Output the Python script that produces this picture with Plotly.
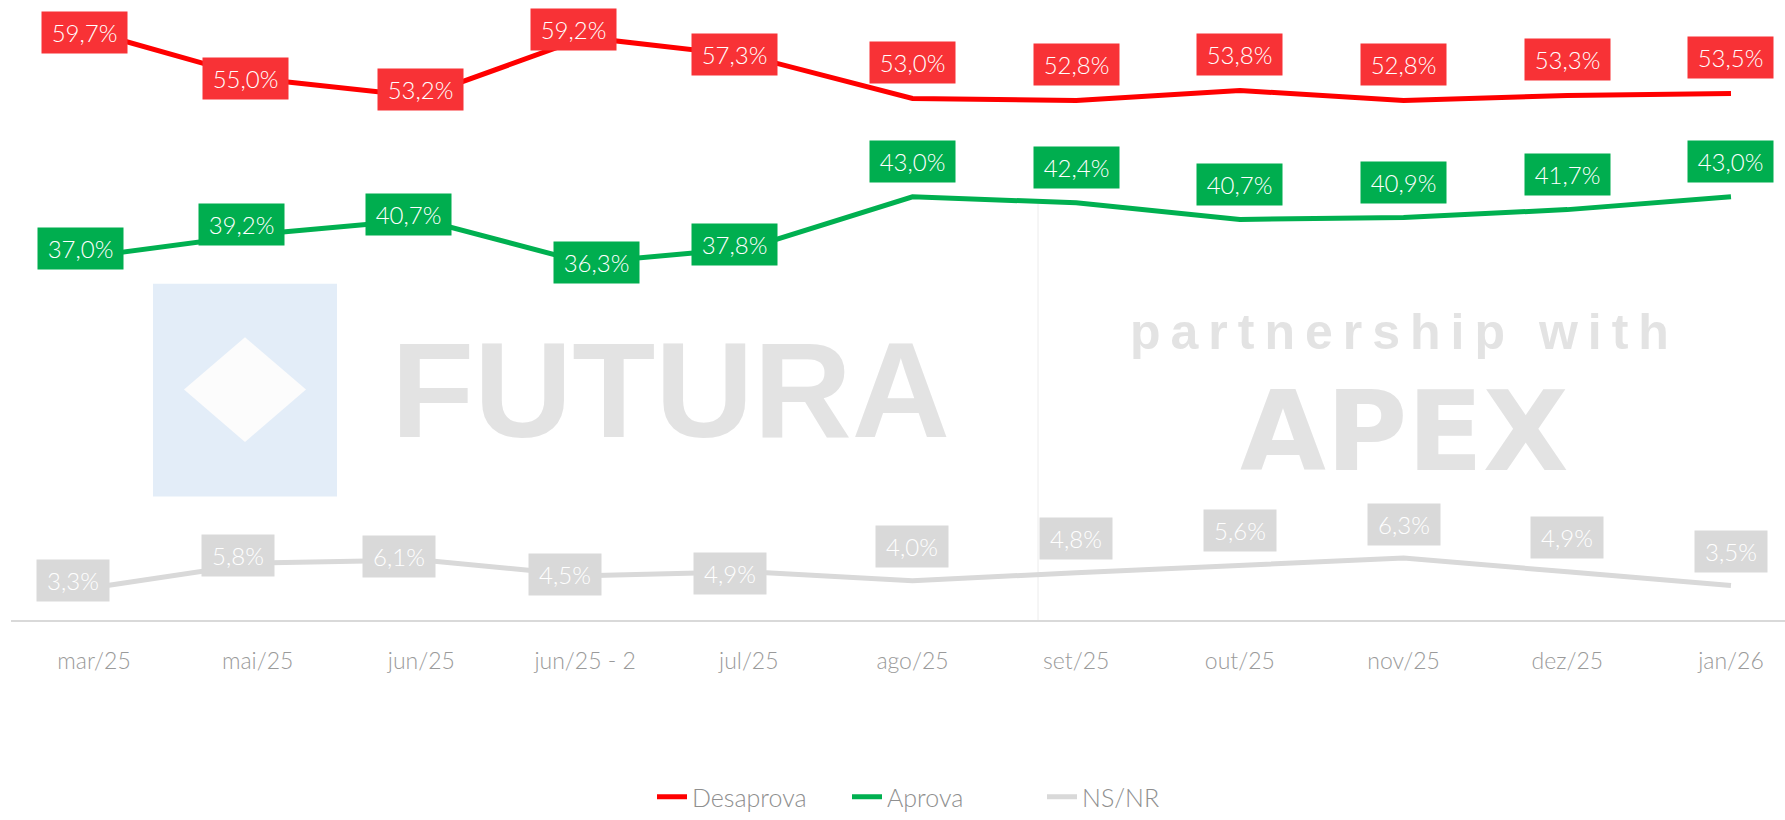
import plotly.graph_objects as go

# ---------------- data ----------------
categories = ["mar/25", "mai/25", "jun/25", "jun/25 - 2", "jul/25", "ago/25",
              "set/25", "out/25", "nov/25", "dez/25", "jan/26"]
desaprova = [59.7, 55.0, 53.2, 59.2, 57.3, 53.0, 52.8, 53.8, 52.8, 53.3, 53.5]
aprova = [37.0, 39.2, 40.7, 36.3, 37.8, 43.0, 42.4, 40.7, 40.9, 41.7, 43.0]
nsnr = [3.3, 5.8, 6.1, 4.5, 4.9, 4.0, 4.8, 5.6, 6.3, 4.9, 3.5]

# ---------------- label placement (pixel shifts: right, up) ----------------
red_shift = [(-10, 0), (-12, 0), (-1, 7), (-12, 8), (-14, 2),
             (0, 36), (0, 36), (0, 36), (0, 36), (0, 36), (0, 36)]
green_shift = [(-14, 7), (-16, 10), (-13, 5), (11, 0), (-14, 4),
               (0, 35), (0, 35), (0, 35), (0, 35), (0, 35), (0, 35)]
gray_shift = [(-21, 7), (-20, 7), (-22, 3), (-20, 1), (-19, -2),
              (0, 34), (0, 34), (0, 34), (0, 34), (0, 34), (0, 34)]

W, H = 1785, 820
ML, MR, MT, MB = 11, 0, 0, 193
PW, PH = W - ML - MR, H - MT - MB

LINE_RED, LINE_GREEN, LINE_GRAY = "#FF0000", "#00B050", "#D9D9D9"
BOX_RED, BOX_GREEN, BOX_GRAY = "#F83236", "#00AE4F", "#D9D9D9"
LIGHT_FONT = "Lato, Roboto"


def px_x(px):
    return (px - ML) / PW


def px_y(py):
    return (H - MB - py) / PH


fig = go.Figure()

series = [
    ("Desaprova", desaprova, LINE_RED, BOX_RED, red_shift, 75),
    ("Aprova", aprova, LINE_GREEN, BOX_GREEN, green_shift, 75),
    ("NS/NR", nsnr, LINE_GRAY, BOX_GRAY, gray_shift, 62),
]

for name, vals, lc, bc, shifts, bw in series:
    fig.add_trace(go.Scatter(
        x=categories, y=vals, mode="lines", name=name,
        line=dict(color=lc, width=5),
        hoverinfo="skip",
    ))

annotations = []
# data labels
for name, vals, lc, bc, shifts, bw in series:
    for c, v, (dx, dy) in zip(categories, vals, shifts):
        annotations.append(dict(
            x=c, y=v, xref="x", yref="y",
            text=f"{v:.1f}%".replace(".", ","),
            showarrow=False, xanchor="center", yanchor="middle",
            xshift=dx, yshift=dy,
            bgcolor=bc, borderpad=5, width=bw, height=31,
            font=dict(family=LIGHT_FONT, size=24, color="white", weight=300),
        ))

# watermark texts
annotations.append(dict(
    x=px_x(670), y=px_y(394), xref="paper", yref="paper",
    text="FUTURA", showarrow=False, xanchor="center", yanchor="middle",
    font=dict(family="Liberation Sans", size=136, color="#E3E3E3", weight=700),
))
annotations.append(dict(
    x=px_x(1404), y=px_y(336), xref="paper", yref="paper",
    text='<span style="letter-spacing:10px">partnership with</span>',
    showarrow=False, xanchor="center", yanchor="middle",
    font=dict(family="Liberation Sans", size=50, color="#E3E3E3", weight=700),
))
annotations.append(dict(
    x=px_x(1404), y=px_y(436), xref="paper", yref="paper",
    text="APEX", showarrow=False, xanchor="center", yanchor="middle",
    font=dict(family="DejaVu Sans", size=111, color="#E3E3E3", weight=700),
))

shapes = [
    dict(type="rect", xref="paper", yref="paper",
         x0=px_x(153), x1=px_x(337), y0=px_y(502), y1=px_y(287),
         fillcolor="#E3EDF8", line=dict(width=0), layer="below"),
    dict(type="path", xref="paper", yref="paper",
         path=(f"M {px_x(184)} {px_y(394)} L {px_x(245)} {px_y(341)} "
               f"L {px_x(306)} {px_y(394)} L {px_x(245)} {px_y(447)} Z"),
         fillcolor="#FCFCFC", line=dict(width=0), layer="below"),
    dict(type="line", xref="paper", yref="paper",
         x0=px_x(1038), x1=px_x(1038), y0=px_y(206), y1=px_y(627),
         line=dict(color="#ECECEC", width=1), layer="below"),
]

fig.update_layout(
    width=W, height=H,
    margin=dict(l=ML, r=MR, t=MT, b=MB, pad=0),
    paper_bgcolor="white", plot_bgcolor="white",
    showlegend=True,
    legend=dict(
        orientation="h", x=px_x(652), y=px_y(806),
        xanchor="left", yanchor="middle",
        font=dict(family=LIGHT_FONT, size=25, color="#8F8F8F", weight=300),
        itemclick=False, itemdoubleclick=False,
        entrywidth=150,
    ),
    xaxis=dict(
        type="category", range=[-0.507, 10.33],
        showgrid=False, zeroline=False,
        showline=True, linecolor="#D9D9D9", linewidth=2,
        ticks="", ticklabelstandoff=19,
        tickfont=dict(family=LIGHT_FONT, size=23, color="#9A9A9A", weight=300),
        fixedrange=True,
    ),
    yaxis=dict(
        range=[0, 63.0], visible=False, showgrid=False, zeroline=False,
        fixedrange=True,
    ),
    annotations=annotations,
    shapes=shapes,
)

fig.write_html(
    "out.html",
    config={"displayModeBar": False},
    post_script="document.body.style.margin='0';document.body.style.padding='0';",
)
